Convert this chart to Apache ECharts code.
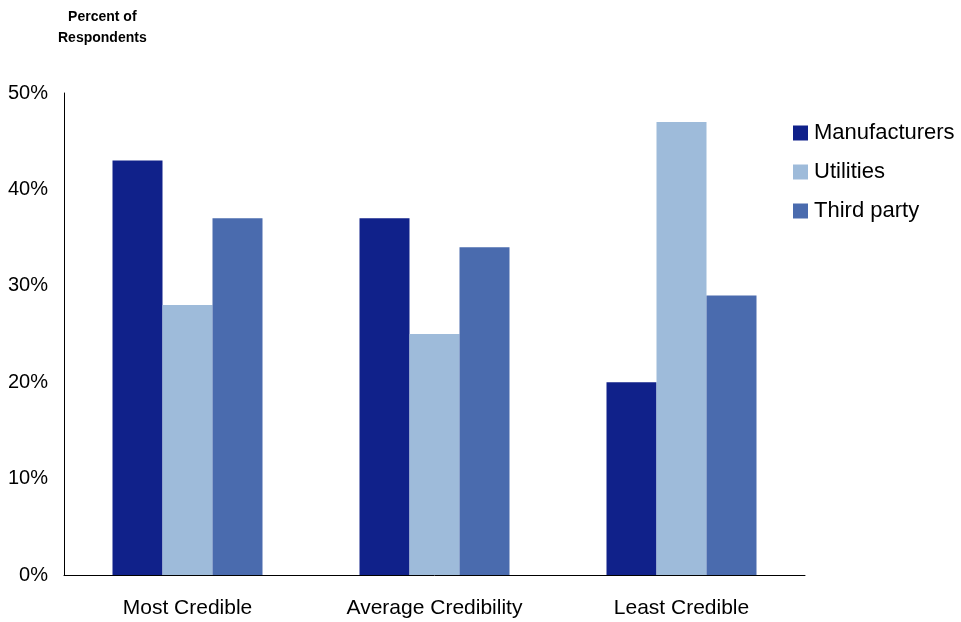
<!DOCTYPE html>
<html>
<head>
<meta charset="utf-8">
<script src="https://cdn.jsdelivr.net/npm/echarts@6/dist/echarts.min.js"></script>
<style>
  html, body { margin: 0; padding: 0; background: #fff; }
  #chart { width: 961px; height: 622px; }
</style>
</head>
<body>
<div id="chart"></div>
<script>
// Credibility ratings by source type (percent of respondents)
const categories = ['Most Credible', 'Average Credibility', 'Least Credible'];
const manufacturers = [43, 37, 20];
const utilities = [28, 25, 47];
const thirdParty = [37, 34, 29];
const yTicks = [0, 10, 20, 30, 40, 50];

const FONT = '"Liberation Sans", Arial, sans-serif';
const chart = echarts.init(document.getElementById('chart'));

chart.setOption({
  animation: false,
  backgroundColor: '#ffffff',
  textStyle: { fontFamily: FONT },
  graphic: [{
    type: 'text',
    left: 58, top: 7,
    style: {
      text: 'Percent of\nRespondents',
      x: 0, y: 0,
      textAlign: 'center',
      font: 'bold 14px "Liberation Sans", Arial, sans-serif',
      lineHeight: 21,
      fill: '#000'
    }
  }],
  legend: {
    orient: 'vertical',
    left: 788, top: 117,
    itemWidth: 15, itemHeight: 15,
    itemGap: 17,
    icon: 'rect',
    textStyle: { fontFamily: FONT, fontSize: 22, color: '#000', padding: [0, 0, 0, 1] },
    data: ['Manufacturers', 'Utilities', 'Third party']
  },
  grid: { left: 64, right: 156, top: 93, bottom: 47, containLabel: false },
  xAxis: {
    type: 'category',
    data: categories,
    axisLine: { lineStyle: { color: '#000', width: 1 } },
    axisTick: { show: false },
    axisLabel: { fontFamily: FONT, fontSize: 21, color: '#000', margin: 23 }
  },
  yAxis: {
    type: 'value',
    min: yTicks[0], max: yTicks[yTicks.length - 1], interval: 10,
    axisLine: { show: true, lineStyle: { color: '#000', width: 1 } },
    axisTick: { show: false },
    splitLine: { show: false },
    axisLabel: { fontFamily: FONT, fontSize: 20, color: '#000', margin: 16, formatter: '{value}%' }
  },
  series: [
    { name: 'Manufacturers', type: 'bar', data: manufacturers, barWidth: 50, barGap: '0%', itemStyle: { color: '#10218a' } },
    { name: 'Utilities', type: 'bar', data: utilities, barWidth: 50, barGap: '0%', itemStyle: { color: '#9ebbda' } },
    { name: 'Third party', type: 'bar', data: thirdParty, barWidth: 50, barGap: '0%', itemStyle: { color: '#4a6bae' } }
  ]
});
</script>
</body>
</html>
